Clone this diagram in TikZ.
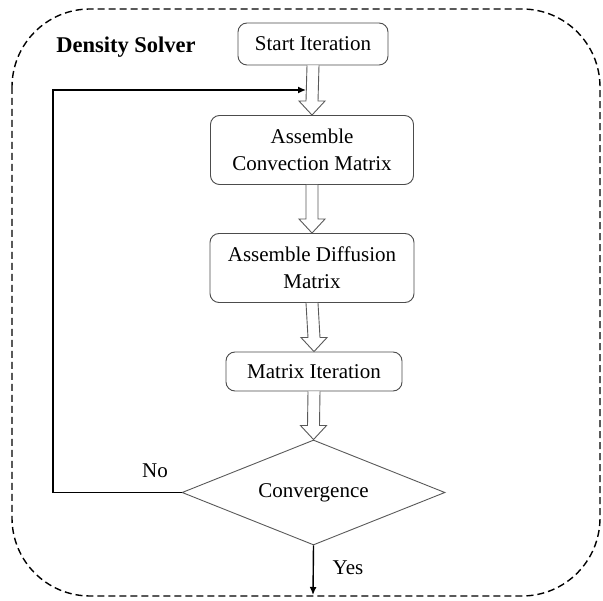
\documentclass[tikz,border=0pt]{standalone}
\usepackage{fontspec}
\setmainfont{Liberation Serif}
\newfontfamily\tnr{Liberation Serif}
\usetikzlibrary{shapes.geometric,calc,arrows.meta}
\tikzset{
  procbox/.style={draw=black!70, line width=0.9pt, rounded corners=9pt, fill=white,
    align=center, inner sep=0pt, font=\tnr\fontsize{21}{27}\selectfont},
  decbox/.style={draw=black!65, line width=0.9pt, diamond, shape aspect=2.5, inner sep=0pt,
    font=\tnr\fontsize{21}{27}\selectfont},
  hollow/.style={draw=black!65, line width=0.9pt, fill=white, line join=miter},
  flowline/.style={draw=black, line width=1.4pt},
  lbl/.style={font=\tnr\fontsize{21}{24}\selectfont, inner sep=0pt},
  frame/.style={draw=black, line width=1.4pt, dash pattern=on 7pt off 4pt, rounded corners=78pt}
}
\newcommand\hollowarrow[2]{%
  \draw[hollow] ($(#1.south)+(-6,0)$) -- ($(#2.north)+(-6,-14)$) -- ($(#2.north)+(-13,-14)$)
    -- (#2.north) -- ($(#2.north)+(13,-14)$) -- ($(#2.north)+(6,-14)$) -- ($(#1.south)+(6,0)$);}
\begin{document}
\begin{tikzpicture}[x=1pt,y=-1pt]
\useasboundingbox (0,0) rectangle (603,601);
\draw[frame] (12,9) rectangle (600,596);
\node[lbl, font=\tnr\fontsize{22.5}{24}\selectfont\bfseries] (title) at (126,47) {Density Solver};
\node[procbox, minimum width=150pt, minimum height=42pt] (start) at (313,44) {Start Iteration};
\node[procbox, minimum width=203pt, minimum height=69pt] (conv) at (312,150) {Assemble\\Convection Matrix};
\node[procbox, minimum width=204pt, minimum height=69pt] (diff) at (312,268) {Assemble Diffusion\\Matrix};
\node[procbox, minimum width=176pt, minimum height=39pt] (iter) at (314,371.5) {Matrix Iteration};
\node[decbox, minimum width=263pt, minimum height=105pt] (dec) at (313.5,492.5) {Convergence};
\hollowarrow{start}{conv}
\hollowarrow{conv}{diff}
\hollowarrow{diff}{iter}
\hollowarrow{iter}{dec}
\coordinate (lc) at (53,90);
\coordinate (loopend) at (306,90);
\draw[flowline, -{Latex[length=8pt,width=7pt]}] (dec.west) -| (lc) -- (loopend);
\coordinate (yesend) at (313,595);
\draw[flowline, -{Latex[length=8pt,width=7pt]}] (dec.south) -- (yesend);
\node[lbl] (no) at (155,471) {No};
\node[lbl] (yes) at (348,568) {Yes};
\end{tikzpicture}
\end{document}
